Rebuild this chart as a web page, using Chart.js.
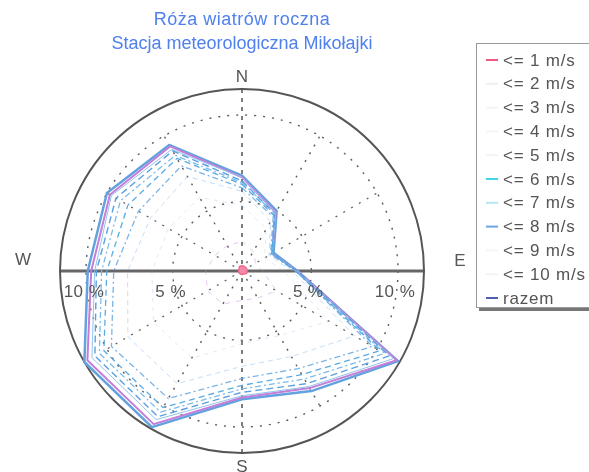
<!DOCTYPE html>
<html>
<head>
<meta charset="utf-8">
<script src="https://cdn.jsdelivr.net/npm/chart.js@4.4.1/dist/chart.umd.min.js"></script>
<style>
  html, body { margin: 0; padding: 0; background: #fff; }
</style>
</head>
<body>
<canvas id="rose" width="589" height="472"></canvas>
<script>
// directions every 30 deg, clockwise from north
const directions = ['N', '30', '60', 'E', '120', '150', 'S', '210', '240', 'W', '300', '330'];
const compassLabels = ['N', 'E', 'S', 'W'];
const ringValues = [5, 10];
const ringLabels = ['5 %', '10 %'];
const titleLines = ['Róża wiatrów roczna', 'Stacja meteorologiczna Mikołajki'];
const speedLabels = ['<= 1 m/s', '<= 2 m/s', '<= 3 m/s', '<= 4 m/s', '<= 5 m/s',
  '<= 6 m/s', '<= 7 m/s', '<= 8 m/s', '<= 9 m/s', '<= 10 m/s', 'razem'];

// cumulative frequency [%] per direction
const upTo1  = [1.3, 1.3, 1.3, 1.3, 1.3, 1.2, 1.2, 1.2, 1.2, 1.2, 1.2, 1.3];
const upTo2  = [2.7, 2.3, 1.9, 2.2, 3.3, 2.8, 2.7, 3.2, 3.3, 3.1, 2.8, 2.7];
const upTo3  = [4.8, 3.8, 2.5, 3.4, 6.8, 5.3, 5.2, 6.8, 6.9, 6.2, 5.9, 5.9];
const upTo4  = [5.6, 4.3, 2.8, 3.9, 8.5, 6.7, 6.5, 8.5, 8.6, 7.6, 7.1, 7.3];
const upTo5  = [5.8, 4.6, 2.9, 4.1, 9.7, 7.5, 7.2, 9.5, 9.7, 8.4, 7.9, 8.0];
const upTo6  = [6.0, 4.7, 3.0, 4.1, 10.2, 7.9, 7.6, 10.1, 10.2, 8.8, 8.6, 8.5];
const upTo7  = [6.1, 4.8, 3.0, 4.1, 10.5, 8.2, 7.8, 10.4, 10.5, 9.1, 9.1, 8.7];
const upTo8  = [6.2, 4.8, 3.0, 4.2, 10.8, 8.5, 8.0, 10.7, 10.8, 9.4, 9.4, 9.0];
const upTo9  = [6.4, 4.9, 3.0, 4.2, 11.1, 8.7, 8.2, 10.9, 11.0, 9.5, 9.7, 9.1];
const upTo10 = [6.4, 4.9, 3.0, 4.2, 11.3, 8.8, 8.3, 11.2, 11.3, 9.7, 9.8, 9.3];
const total  = [6.5, 5.0, 3.1, 4.2, 11.4, 9.0, 8.4, 11.4, 11.5, 9.9, 10.0, 9.4];

const FONT = "'Liberation Sans', Arial, sans-serif";

// grid, axes, texts and the boxed legend of the old plot
const roseFrame = {
  id: 'roseFrame',
  beforeDatasetsDraw(chart) {
    const r = chart.scales.r;
    const ctx = chart.ctx;
    const cx = r.xCenter, cy = r.yCenter;
    const outer = r.getDistanceFromCenterForValue(r.max);
    const ten = r.getDistanceFromCenterForValue(10);
    ctx.save();
    ctx.strokeStyle = '#5c5c5c';
    ctx.lineWidth = 1.4;
    ctx.setLineDash([2, 7]);
    ringValues.forEach(v => {
      ctx.beginPath();
      ctx.arc(cx, cy, r.getDistanceFromCenterForValue(v), 0, Math.PI * 2);
      ctx.stroke();
    });
    directions.forEach((d, i) => {
      if (i % 3 === 0) return;
      const p = r.getPointPosition(i, ten);
      ctx.beginPath();
      ctx.moveTo(cx, cy);
      ctx.lineTo(p.x, p.y);
      ctx.stroke();
    });
    // north-south dashed
    ctx.setLineDash([4, 5]);
    ctx.lineWidth = 1.6;
    let a = r.getPointPosition(0, outer), b = r.getPointPosition(6, outer);
    ctx.beginPath(); ctx.moveTo(a.x, a.y); ctx.lineTo(b.x, b.y); ctx.stroke();
    // east-west solid
    ctx.setLineDash([]);
    ctx.lineWidth = 3;
    ctx.strokeStyle = '#666';
    a = r.getPointPosition(3, outer); b = r.getPointPosition(9, outer);
    ctx.beginPath(); ctx.moveTo(a.x, a.y); ctx.lineTo(b.x, b.y); ctx.stroke();
    // outer circle
    ctx.lineWidth = 2;
    ctx.strokeStyle = '#555';
    ctx.beginPath(); ctx.arc(cx, cy, outer, 0, Math.PI * 2); ctx.stroke();
    ctx.restore();
  },
  afterDraw(chart) {
    const r = chart.scales.r;
    const ctx = chart.ctx;
    const cx = r.xCenter, cy = r.yCenter;
    const outer = r.getDistanceFromCenterForValue(r.max);
    ctx.save();
    ctx.textBaseline = 'middle';
    ctx.textAlign = 'center';

    // title
    ctx.fillStyle = '#4f80ee';
    ctx.font = '18px ' + FONT;
    ctx.letterSpacing = '0.5px';
    ctx.fillText(titleLines[0], cx, 20);
    ctx.letterSpacing = '0px';
    ctx.fillText(titleLines[1], cx, 44);

    // compass letters
    ctx.fillStyle = '#555';
    ctx.font = '17px ' + FONT;
    const gap = [12, 36, 14, 37];
    const lift = [0, -10, 0, -11];
    compassLabels.forEach((t, k) => {
      const p = r.getPointPosition(k * 3, outer + gap[k]);
      ctx.fillText(t, p.x, p.y + lift[k]);
    });

    // ring labels under the east-west axis
    ctx.letterSpacing = '0.5px';
    ringValues.forEach((v, k) => {
      const d = r.getDistanceFromCenterForValue(v);
      ctx.fillText(ringLabels[k], cx - d - 2, cy + 21);
      ctx.fillText(ringLabels[k], cx + d - 3, cy + 21);
    });

    // legend box
    const lx = 476, ly = 43, lw = 130, lh = 264;
    ctx.strokeStyle = '#9a9a9a';
    ctx.lineWidth = 1;
    ctx.strokeRect(lx + 0.5, ly + 0.5, lw, lh);
    ctx.fillStyle = '#777';
    ctx.fillRect(lx + 3, ly + lh + 1, lw, 3);
    ctx.textAlign = 'left';
    ctx.font = '17px ' + FONT;
    ctx.letterSpacing = '0.8px';
    chart.data.datasets.forEach((ds, i) => {
      const y = 60 + i * 23.8;
      ctx.strokeStyle = ds.legendColor;
      ctx.lineWidth = 2;
      ctx.beginPath(); ctx.moveTo(486, y); ctx.lineTo(498, y); ctx.stroke();
      ctx.fillStyle = '#555';
      ctx.fillText(ds.label, 503, y + 1);
    });
    ctx.restore();
  }
};

new Chart(document.getElementById('rose'), {
  type: 'radar',
  data: {
    labels: directions,
    datasets: [
      { label: speedLabels[0], data: upTo1, borderColor: '#ee6a8e', backgroundColor: '#f28aa8',
        fill: true, borderWidth: 1.5, legendColor: '#ee5a82' },
      { label: speedLabels[1], data: upTo2, borderColor: 'rgba(200,130,225,0.45)', borderWidth: 1,
        borderDash: [5, 6], legendColor: '#efefef' },
      { label: speedLabels[2], data: upTo3, borderColor: 'rgba(140,185,235,0.3)', borderWidth: 1,
        borderDash: [4, 5], legendColor: '#f4f4f4' },
      { label: speedLabels[3], data: upTo4, borderColor: 'rgba(110,170,230,0.4)', borderWidth: 1,
        borderDash: [5, 4], legendColor: '#f6f6f6' },
      { label: speedLabels[4], data: upTo5, borderColor: 'rgba(90,160,225,0.8)', borderWidth: 1.3,
        borderDash: [6, 3, 2, 3], legendColor: '#f4f4f4' },
      { label: speedLabels[5], data: upTo6, borderColor: '#57abe3', borderWidth: 1.3,
        borderDash: [6, 4], legendColor: '#3fd6e6' },
      { label: speedLabels[6], data: upTo7, borderColor: '#7dbbe8', borderWidth: 1.3,
        borderDash: [6, 3, 2, 3], legendColor: '#b5e6f2' },
      { label: speedLabels[7], data: upTo8, borderColor: '#5b9fe0', borderWidth: 1.4,
        borderDash: [7, 4], legendColor: '#6aa6e6' },
      { label: speedLabels[8], data: upTo9, borderColor: '#93c3ec', borderWidth: 1,
        legendColor: '#f6f6f6' },
      { label: speedLabels[9], data: upTo10, borderColor: '#c47ed9', borderWidth: 2,
        legendColor: '#f4f4f4' },
      { label: speedLabels[10], data: total, borderColor: '#62a2de', borderWidth: 2.5,
        legendColor: '#4b5fb5' }
    ]
  },
  options: {
    responsive: false,
    animation: false,
    layout: { padding: { left: 60, right: 165, top: 89, bottom: 19 } },
    plugins: {
      legend: { display: false },
      title: { display: false },
      tooltip: { enabled: false }
    },
    elements: {
      point: { radius: 0, hoverRadius: 0 },
      line: { tension: 0, fill: false, borderJoinStyle: 'round' }
    },
    scales: {
      r: {
        min: 1,
        max: 11.5,
        grid: { display: false },
        angleLines: { display: false },
        pointLabels: { display: false },
        ticks: { display: false }
      }
    }
  },
  plugins: [roseFrame]
});
</script>
</body>
</html>
